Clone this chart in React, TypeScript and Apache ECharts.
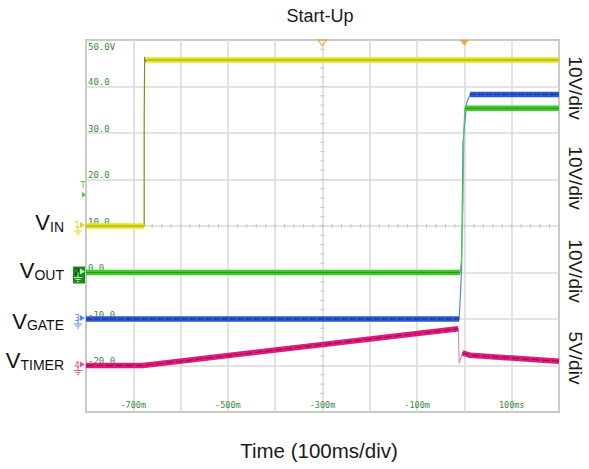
import React, { useEffect, useRef } from 'react';
import * as echarts from 'echarts';

// ---- axis ticks ----
const xTickValues = [-700, -500, -300, -100, 100];
const xTickLabels = ['-700m', '-500m', '-300m', '-100m', '100ms'];
const yTickValues = [40, 30, 20, 10, 0, -10, -20];
const yTickLabels = ['40.0', '30.0', '20.0', '10.0', '0.0', '-10.0', '-20.0'];
const topTickLabel = '50.0V';

// ---- traces (time in ms, level in screen divisions x10) ----
const vinTime = [-800, -677, -677, -676, -674, -672, 200];
const vinVolt = [10, 10, 32, 46.4, 45.3, 45.7, 45.7];
const voutTime = [-800, -9, -6, -3, -1, 1, 200];
const voutVolt = [0, 0, 3, 15, 31, 35.3, 35.3];
const vgateTime = [-800, -11, -6, -3, 5, 12, 200];
const vgateVolt = [-10, -10, 0.5, 28, 36.5, 38.3, 38.3];
const vtimerTime = [-800, -679, -13, -11, -4, 12, 200];
const vtimerVolt = [-20, -20, -12.1, -19.5, -17.3, -17.8, -19.1];

const channelSubs = ['IN', 'OUT', 'GATE', 'TIMER'];
const groundLevels = [10, 0, -10, -20];
const scaleLabels = ['10V/div', '10V/div', '10V/div', '5V/div'];
const triggerLevel = 16.7;
const markerTimes = [-300, 0];

const traces = [
  { t: vinTime, v: vinVolt, band: '#e6e41e', dark: '#5c5a10', edge: '#8c8a1c', dash: [30, 0], op: 0.55 },
  { t: vgateTime, v: vgateVolt, band: '#2a58d6', dark: '#0a1c50', edge: '#5a82e2', dash: [6, 2], op: 0.6 },
  { t: voutTime, v: voutVolt, band: '#3ccb28', dark: '#14580c', edge: '#52d043', dash: [30, 0], op: 0.5 },
  { t: vtimerTime, v: vtimerVolt, band: '#e01a7c', dark: '#2a0a18', edge: '#e68ab9', dash: [7, 3], op: 0.6 },
];
const markColors = ['#e2d21c', '#1e8c1e', '#5b86f0', '#f050a0'];

function bandData(t: number[], v: number[]) {
  const out: any[] = [];
  let last = -2;
  for (let i = 0; i < t.length - 1; i++) {
    const dt = t[i + 1] - t[i];
    const slope = dt === 0 ? Infinity : Math.abs((v[i + 1] - v[i]) / dt);
    if (slope < 0.15) {
      if (last !== i) {
        if (out.length) out.push([t[i], '-']);
        out.push([t[i], v[i]]);
      }
      out.push([t[i + 1], v[i + 1]]);
      last = i + 1;
    }
  }
  return out;
}

function measure(text: string, font: string) {
  const c = document.createElement('canvas').getContext('2d')!;
  c.font = font;
  return c.measureText(text).width;
}

export default function App() {
  const ref = useRef<HTMLDivElement>(null);
  useEffect(() => {
    const chart = echarts.init(ref.current!, null, { renderer: 'svg' });
    const series: any[] = [];
    traces.forEach((tr, k) => {
      const full = tr.t.map((t, i) => [t, tr.v[i]]);
      const band = bandData(tr.t, tr.v);
      series.push({
        type: 'line', data: full, symbol: 'none', z: 3 + k * 3,
        lineStyle: { color: tr.edge, width: 1.2 }, silent: true,
      });
      series.push({
        type: 'line', data: band, symbol: 'none', z: 4 + k * 3, connectNulls: false,
        lineStyle: { color: tr.band, width: 5.5 }, silent: true,
      });
      series.push({
        type: 'line', data: band, symbol: 'none', z: 5 + k * 3, connectNulls: false,
        lineStyle: { color: tr.dark, width: 0.9, type: tr.dash, opacity: tr.op }, silent: true,
      });
    });
    // center cross minor ticks
    series.push({
      type: 'custom', silent: true, z: 2, clip: false,
      data: [[-300, 10]],
      renderItem: (params: any, api: any) => {
        const children: any[] = [];
        const cx = api.value(0);
        const cy = api.value(1);
        for (let v = -30; v <= 50; v += 2) {
          const p = api.coord([cx, v]);
          children.push({ type: 'line', shape: { x1: p[0] - 2, y1: p[1], x2: p[0] + 2, y2: p[1] }, style: { stroke: '#c4c4c4', lineWidth: 1 } });
        }
        for (let t = -800; t <= 200; t += 20) {
          const p = api.coord([t, cy]);
          children.push({ type: 'line', shape: { x1: p[0], y1: p[1] - 2, x2: p[0], y2: p[1] + 2 }, style: { stroke: '#c4c4c4', lineWidth: 1 } });
        }
        return { type: 'group', children };
      },
    });
    // top markers
    series.push({
      type: 'scatter', silent: true, z: 30, clip: false,
      data: markerTimes.map((t, i) => ({
        value: [t, 50],
        itemStyle: i === 0
          ? { color: 'rgba(0,0,0,0)', borderColor: '#f0a030', borderWidth: 1.2 }
          : { color: '#f39a1e' },
      })),
      symbol: 'triangle', symbolRotate: 180, symbolSize: [9, 6], symbolOffset: [0, 3],
    });

    chart.setOption({
      animation: false,
      grid: { left: 86, right: 30, top: 40, bottom: 57, show: true, borderColor: '#7a7a7a', borderWidth: 1.5 },
      xAxis: {
        type: 'value', min: -800, max: 200, interval: 100,
        axisLine: { show: false }, axisTick: { show: false },
        splitLine: { show: true, lineStyle: { color: '#dadada', width: 1.5 } },
        axisLabel: {
          inside: true, margin: 3, color: '#3b8a3b', fontSize: 8.5, fontFamily: 'DejaVu Sans Mono',
          formatter: (v: number) => { const i = xTickValues.indexOf(v); return i >= 0 ? xTickLabels[i] : ''; },
        },
      },
      yAxis: {
        type: 'value', min: -30, max: 50, interval: 10,
        axisLine: { show: false }, axisTick: { show: false },
        splitLine: { show: true, lineStyle: { color: '#dadada', width: 1.5 } },
        axisLabel: {
          inside: true, margin: 2, color: '#3b8a3b', fontSize: 9, fontFamily: 'DejaVu Sans Mono',
          verticalAlign: 'bottom', align: 'left',
          formatter: (v: number) => { const i = yTickValues.indexOf(v); return i >= 0 ? yTickLabels[i] : ''; },
        },
      },
      series,
    });

    const px = (t: number, v: number) => chart.convertToPixel({ gridIndex: 0 }, [t, v]) as number[];
    const g: any[] = [];
    const sans = 'Liberation Sans';
    g.push({ type: 'text', x: 320, y: 16, style: { text: 'Start-Up', fontSize: 18, fontFamily: sans, fill: '#1a1a1a', align: 'center', verticalAlign: 'middle' } });
    g.push({ type: 'text', x: 319, y: 450, style: { text: 'Time (100ms/div)', fontSize: 20.5, fontFamily: sans, fill: '#1a1a1a', align: 'center', verticalAlign: 'middle' } });
    const rightY = [88, 178, 271, 358];
    scaleLabels.forEach((s, i) => {
      g.push({ type: 'text', x: 575, y: rightY[i], rotation: -Math.PI / 2, style: { text: s, fontSize: 19, fontFamily: sans, fill: '#1a1a1a', align: 'center', verticalAlign: 'middle' } });
    });
    const topP = px(-800, 50);
    g.push({ type: 'text', x: topP[0] + 2, y: topP[1] + 2, style: { text: topTickLabel, fontSize: 9, fontFamily: 'DejaVu Sans Mono', fill: '#3b8a3b', align: 'left', verticalAlign: 'top' } });

    const labelOffsets = [-4.5, -3, 1, -6];
    const rightEdge = 64;
    channelSubs.forEach((sub, i) => {
      const gy = px(-800, groundLevels[i])[1];
      const c = gy + labelOffsets[i];
      const sw = measure(sub, '14px "Liberation Sans"');
      g.push({ type: 'text', x: rightEdge - sw, y: c + 1, style: { text: 'V', fontSize: 22, fontFamily: sans, fill: '#111', align: 'right', verticalAlign: 'middle' } });
      g.push({ type: 'text', x: rightEdge - sw, y: c + 5, style: { text: sub, fontSize: 14, fontFamily: sans, fill: '#111', align: 'left', verticalAlign: 'middle' } });
      const col = markColors[i];
      const x0 = px(-800, 0)[0];
      if (i === 1) {
        g.push({ type: 'rect', shape: { x: x0 - 13, y: gy - 6, width: 12, height: 17 }, style: { fill: '#1e8a1e' } });
      }
      const fg = i === 1 ? '#b8ffb0' : col;
      g.push({ type: 'text', x: x0 - 9, y: gy - 1, style: { text: String(i + 1), fontSize: 9, fontFamily: 'DejaVu Sans', fill: i === 1 ? '#0b3d0b' : col, align: 'center', verticalAlign: 'middle' } });
      g.push({ type: 'polygon', shape: { points: [[x0 - 6, gy - 4], [x0 - 1, gy - 1], [x0 - 6, gy + 2]] }, style: { fill: fg } });
      g.push({ type: 'line', shape: { x1: x0 - 8, y1: gy, x2: x0 - 8, y2: gy + 5 }, style: { stroke: fg, lineWidth: 1 } });
      g.push({ type: 'line', shape: { x1: x0 - 12, y1: gy + 5, x2: x0 - 4, y2: gy + 5 }, style: { stroke: fg, lineWidth: 1 } });
      g.push({ type: 'line', shape: { x1: x0 - 10.5, y1: gy + 7, x2: x0 - 5.5, y2: gy + 7 }, style: { stroke: fg, lineWidth: 1 } });
      g.push({ type: 'line', shape: { x1: x0 - 9, y1: gy + 9, x2: x0 - 7, y2: gy + 9 }, style: { stroke: fg, lineWidth: 1 } });
    });
    // trigger marker
    const tp = px(-800, triggerLevel);
    g.push({ type: 'text', x: tp[0] - 3, y: tp[1] - 10, style: { text: 'T', fontSize: 9, fontFamily: 'DejaVu Sans', fill: '#4ccf3a', align: 'center', verticalAlign: 'middle' } });
    g.push({ type: 'polygon', shape: { points: [[tp[0] - 4, tp[1] - 3], [tp[0], tp[1]], [tp[0] - 4, tp[1] + 3]] }, style: { fill: '#4ccf3a' } });

    chart.setOption({ graphic: g });
    return () => chart.dispose();
  }, []);
  return <div ref={ref} style={{ position: 'fixed', left: 0, top: 0, width: 589, height: 469, background: '#fff' }} />;
}
